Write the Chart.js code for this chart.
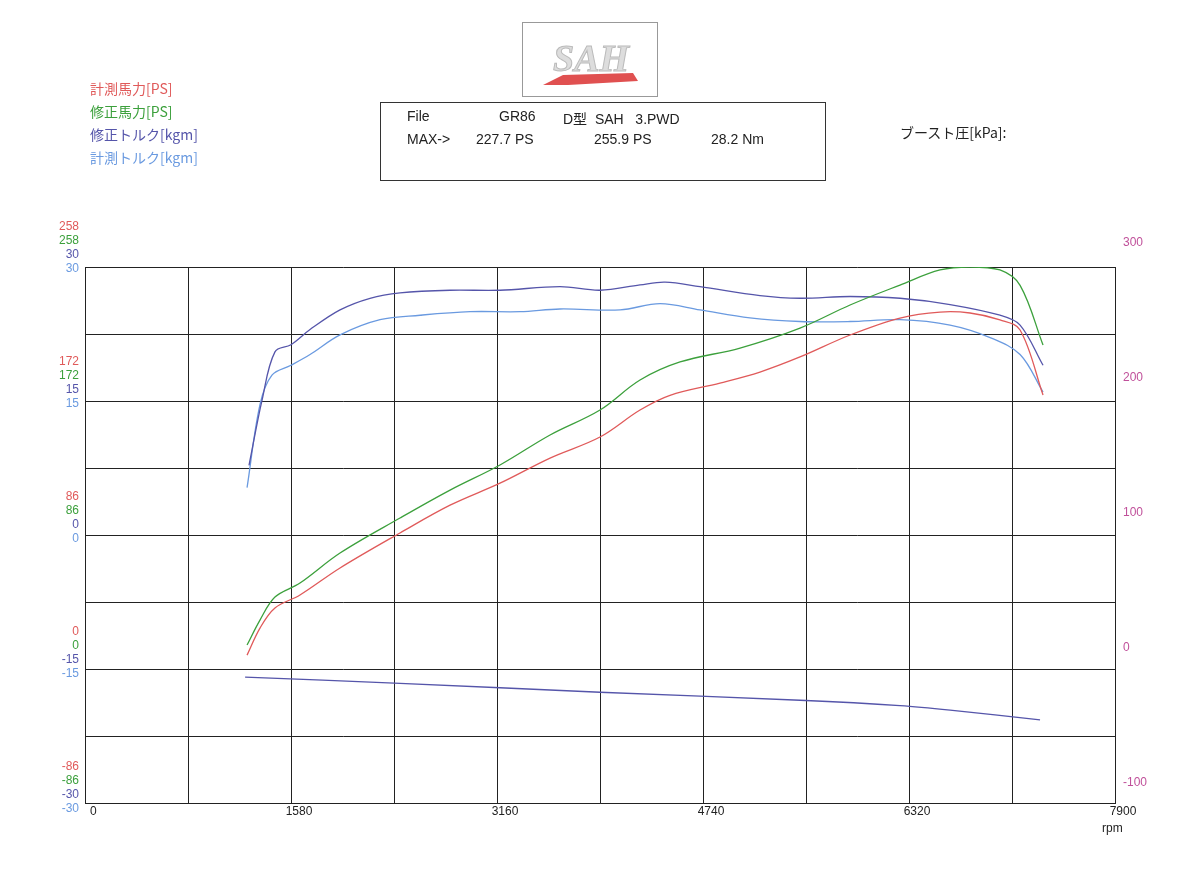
<!DOCTYPE html>
<html>
<head>
<meta charset="utf-8">
<script src="https://cdn.jsdelivr.net/npm/chart.js@4/dist/chart.umd.min.js"></script>
<style>
body { margin: 0; background: #fff; font-family: "Liberation Sans", "Noto Sans CJK JP", sans-serif; }
#wrap { position: relative; width: 1200px; height: 889px; }
canvas { position: absolute; left: 0; top: 0; }
.lbl { position: absolute; font-size: 14px; font-family: "Noto Sans CJK JP", sans-serif; }
#logo { position: absolute; left: 522px; top: 22px; width: 134px; height: 73px; border: 1px solid #999; }
#box { position: absolute; left: 380px; top: 102px; width: 444px; height: 77px; border: 1px solid #333; font-size: 14px; color: #222; }
#box span { position: absolute; }
</style>
</head>
<body>
<div id="wrap">
<canvas id="grafica" width="1200" height="889"></canvas>
<div id="logo"><svg width="134" height="73">
  <path d="M20 62 L40 52 L110 50 L115 58 L45 62 Z" fill="#e05050"/>
  <text x="30" y="48" font-size="38" font-style="italic" font-weight="bold" fill="#ddd" stroke="#bbb" font-family="Liberation Serif">SAH</text>
</svg></div>
<div class="lbl" style="left:90px;top:78px;color:#e05a5a">計測馬力[PS]</div>
<div class="lbl" style="left:90px;top:101px;color:#3ca03c">修正馬力[PS]</div>
<div class="lbl" style="left:90px;top:124px;color:#5555aa">修正トルク[kgm]</div>
<div class="lbl" style="left:90px;top:147px;color:#6a9ae0">計測トルク[kgm]</div>
<div id="box">
  <span style="left:26px;top:5px">File</span>
  <span style="left:118px;top:5px">GR86</span>
  <span style="left:182px;top:5px">D型&nbsp;&nbsp;SAH&nbsp;&nbsp;&nbsp;3.PWD</span>
  <span style="left:26px;top:28px">MAX-&gt;</span>
  <span style="left:95px;top:28px">227.7 PS</span>
  <span style="left:213px;top:28px">255.9 PS</span>
  <span style="left:330px;top:28px">28.2 Nm</span>
</div>
<div class="lbl" style="left:900px;top:122px;color:#222">ブースト圧[kPa]:</div>
</div>
<script>
// rpm de cada serie
const rpmPot = [1243, 1342, 1457, 1649, 1956, 2416, 2800, 3183, 3567, 3950, 4257, 4487, 4870, 5177, 5484, 5868, 6251, 6558, 6788, 7018, 7172, 7348];
const potMedida = [-4.5, 12.7, 25.5, 33.8, 51, 73.3, 91, 105, 121, 134.4, 151.6, 161, 168.8, 175.8, 185.4, 199.4, 210.2, 214, 213.4, 209, 202.6, 161.2];
const rpmPotCorr = [1243, 1342, 1457, 1649, 1956, 2416, 2800, 3183, 3567, 3950, 4257, 4564, 5024, 5484, 5868, 6251, 6558, 6788, 7018, 7172, 7348];
const potCorregida = [1.9, 17.8, 32.5, 41.4, 60.5, 82.8, 100.6, 116.6, 135.7, 151.6, 170.7, 182.2, 191.1, 203.8, 218.5, 231.2, 240.8, 242.7, 240.8, 231, 193];
const rpmParCorr = [1258, 1358, 1457, 1580, 1726, 1956, 2186, 2416, 2800, 3183, 3643, 3950, 4257, 4449, 4717, 5177, 5484, 5868, 6251, 6635, 7018, 7172, 7348];
const parCorregido = [7.8, 15.1, 20.5, 21.3, 23, 25.2, 26.5, 27.1, 27.4, 27.4, 27.8, 27.4, 28, 28.3, 27.8, 26.8, 26.5, 26.7, 26.5, 25.8, 24.6, 23.5, 19];
const rpmParMed = [1243, 1342, 1434, 1580, 1726, 1956, 2263, 2570, 2953, 3337, 3643, 4104, 4411, 4717, 5100, 5484, 5868, 6251, 6635, 6942, 7172, 7348];
const parMedido = [5.3, 14.6, 17.9, 19, 20.2, 22.4, 24.1, 24.6, 25, 25, 25.3, 25.2, 25.9, 25.2, 24.3, 23.9, 23.9, 24.1, 23.5, 22.1, 20.2, 16];
const rpmBaja = [1228, 2416, 3950, 5484, 6251, 6635, 7325];
const lineaBaja = [-15.9, -16.6, -17.6, -18.5, -19.1, -19.6, -20.7];

const ticksX = [0, 1580, 3160, 4740, 6320, 7900];
const ticksDer = [300, 200, 100, 0, -100];
const gruposIzq = [
    ['258', '258', '30', '30'],
    ['172', '172', '15', '15'],
    ['86', '86', '0', '0'],
    ['0', '0', '-15', '-15'],
    ['-86', '-86', '-30', '-30']
];
const coloresIzq = ['#e05a5a', '#3ca03c', '#5555aa', '#6a9ae0'];

const pares = (xs, ys) => xs.map((x, i) => ({ x, y: ys[i] }));

const etiquetas = {
    id: 'etiquetas',
    afterDraw(chart) {
        const ctx = chart.ctx;
        const a = chart.chartArea;
        const sx = chart.scales.x;
        const sd = chart.scales.yDer;
        ctx.save();
        ctx.font = '12px "Liberation Sans", sans-serif';
        ctx.textBaseline = 'middle';
        ctx.fillStyle = '#222';
        ticksX.forEach(v => {
            ctx.textAlign = v === 0 ? 'left' : 'center';
            ctx.fillText(String(v), sx.getPixelForValue(v) + (v === 0 ? 5 : 8), a.bottom + 9);
        });
        ctx.textAlign = 'left';
        ctx.fillText('rpm', 1102, a.bottom + 26);
        ctx.fillStyle = '#c0509a';
        ticksDer.forEach(v => ctx.fillText(String(v), a.right + 8, sd.getPixelForValue(v)));
        ctx.textAlign = 'right';
        gruposIzq.forEach((g, k) => {
            const base = a.top - 40 + 135 * k;
            g.forEach((t, j) => {
                ctx.fillStyle = coloresIzq[j];
                ctx.fillText(t, 79, base + 14 * j);
            });
        });
        ctx.restore();
    }
};

const serie = (data, color, eje) => ({
    data, borderColor: color, borderWidth: 1.3, pointRadius: 0,
    tension: 0.35, fill: false, yAxisID: eje
});

new Chart(document.getElementById('grafica').getContext('2d'), {
    type: 'line',
    data: {
        datasets: [
            serie(pares(rpmPot, potMedida), '#e05a5a', 'yPot'),
            serie(pares(rpmPotCorr, potCorregida), '#3ca03c', 'yPot'),
            serie(pares(rpmParCorr, parCorregido), '#5555aa', 'y'),
            serie(pares(rpmParMed, parMedido), '#6a9ae0', 'y'),
            serie(pares(rpmBaja, lineaBaja), '#5555aa', 'y')
        ]
    },
    options: {
        responsive: false,
        animation: false,
        layout: { padding: { left: 85, right: 85, top: 267, bottom: 86 } },
        plugins: { legend: { display: false }, tooltip: { enabled: false } },
        scales: {
            x: {
                type: 'linear', min: 0, max: 7900,
                ticks: { display: false, stepSize: 790 },
                grid: { color: '#222', drawTicks: false },
                border: { color: '#222' }
            },
            y: {
                min: -30, max: 30,
                ticks: { display: false, stepSize: 7.5 },
                grid: { color: '#222', drawTicks: false },
                border: { color: '#222' }
            },
            yPot: {
                display: false, min: -98.7, max: 242.7
            },
            yDer: {
                display: false, min: -114.8, max: 282.2
            }
        }
    },
    plugins: [etiquetas]
});
</script>
</body>
</html>
